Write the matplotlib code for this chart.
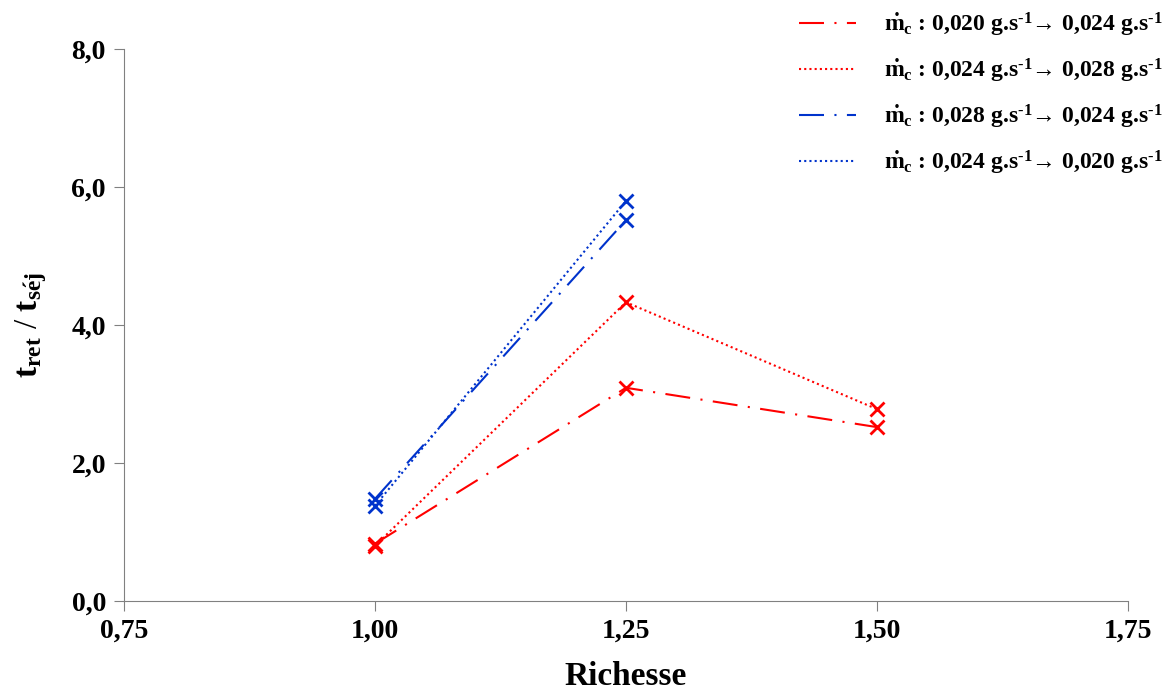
import matplotlib
matplotlib.use("Agg")
import matplotlib.pyplot as plt

plt.rcParams['font.family'] = ['Liberation Serif', 'DejaVu Serif']
plt.rcParams['font.weight'] = 'bold'
plt.rcParams['mathtext.fontset'] = 'custom'
plt.rcParams['mathtext.rm'] = 'Liberation Serif:bold'
plt.rcParams['mathtext.it'] = 'Liberation Serif:bold'
plt.rcParams['mathtext.bf'] = 'Liberation Serif:bold'

richesse = [1.00, 1.25, 1.50]
red_dashdot = [0.83, 3.09, 2.52]
red_dotted = [0.80, 4.33, 2.78]
blue_x = [1.00, 1.25]
blue_dashdot = [1.48, 5.52]
blue_dotted = [1.38, 5.80]

flows = [('0,020', '0,024'), ('0,024', '0,028'), ('0,028', '0,024'), ('0,024', '0,020')]
labels = [r'$\dot{\mathrm{m}}_\mathrm{c}$ : ' + a + r' g.s$^{\text{-1}}$→ ' + b + r' g.s$^{\text{-1}}$'
          for a, b in flows]

red = '#ff0000'
blue = '#0033cc'
dashdot = (0, (12, 5, 1, 5))
dotted = (0, (1, 1.5))

fig = plt.figure(figsize=(11.71, 6.93), dpi=100)
ax = fig.add_axes([124/1171, 92/693, 1004/1171, 552/693])

ax.plot(richesse, red_dashdot, color=red, ls=dashdot, lw=1.5, marker='x', ms=10, mew=2, label=labels[0])
ax.plot(richesse, red_dotted, color=red, ls=dotted, lw=1.5, marker='x', ms=10, mew=2, label=labels[1])
ax.plot(blue_x, blue_dashdot, color=blue, ls=dashdot, lw=1.5, marker='x', ms=10, mew=2, label=labels[2])
ax.plot(blue_x, blue_dotted, color=blue, ls=dotted, lw=1.5, marker='x', ms=10, mew=2, label=labels[3])

ax.set_xlim(0.75, 1.75)
ax.set_ylim(0, 8)
ax.set_xticks([0.75, 1.00, 1.25, 1.50, 1.75])
ax.set_xticklabels(['0,75', '1,00', '1,25', '1,50', '1,75'])
ax.set_yticks([0, 2, 4, 6, 8])
ax.set_yticklabels(['0,0', '2,0', '4,0', '6,0', '8,0'])
ax.tick_params(labelsize=20, length=7, color='#808080', pad=6)
for s in ['top', 'right']:
    ax.spines[s].set_visible(False)
for s in ['left', 'bottom']:
    ax.spines[s].set_color('#808080')

ax.set_xlabel('Richesse', fontsize=24, fontweight='bold', labelpad=12)
ax.set_ylabel(r'$\mathrm{t_{ret}}$ / $\mathrm{t_{s\acute{e}j}}$', fontsize=24, labelpad=16)

leg = fig.legend(handles=[l for l in ax.get_lines()], labels=labels, loc='upper right',
                 bbox_to_anchor=(1.011, 1.015), frameon=False, fontsize=17, handlelength=2.4,
                 labelspacing=0.75, handletextpad=1.2)
for h in leg.legend_handles:
    h.set_marker('')

fig.savefig('out.png', dpi=100)
